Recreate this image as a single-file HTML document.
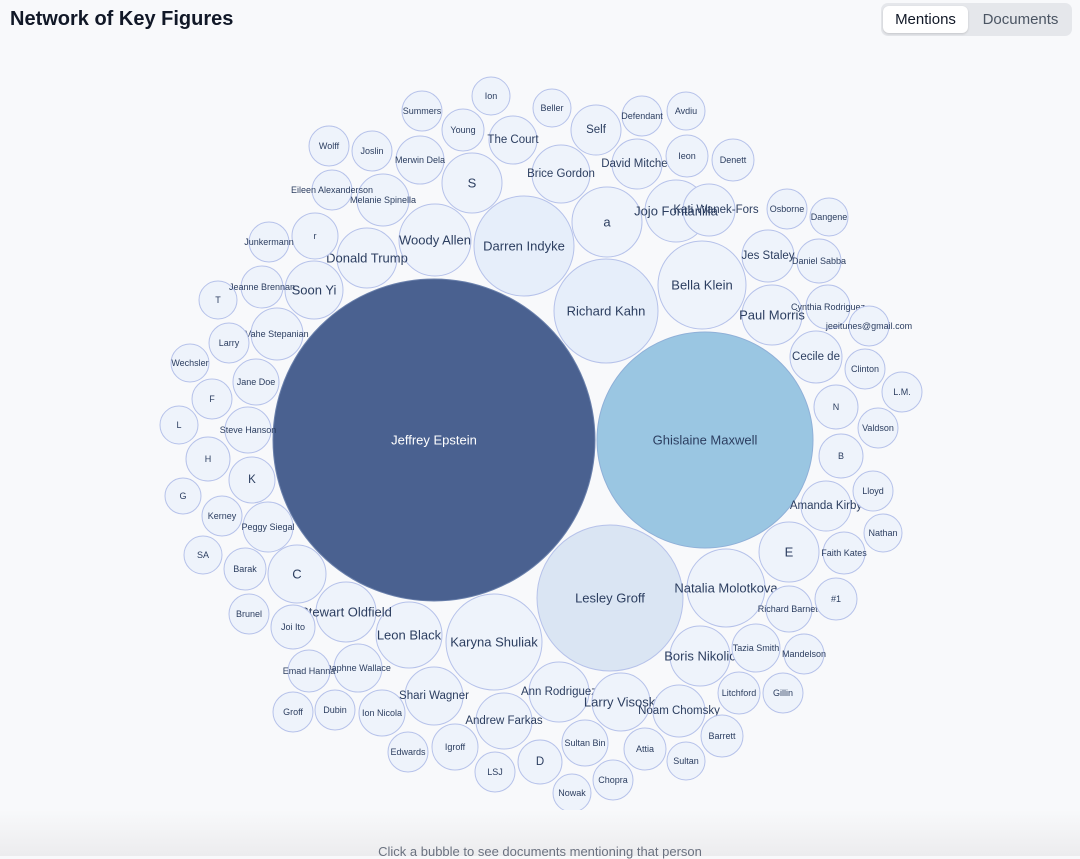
<!DOCTYPE html>
<html><head><meta charset="utf-8"><style>
html,body{margin:0;padding:0;width:1080px;height:856px;overflow:hidden;background:#f8f9fb;font-family:"Liberation Sans",sans-serif}
h1{position:absolute;left:10px;top:8px;margin:0;font-size:20px;font-weight:bold;color:#111827}
.tog{position:absolute;left:881px;top:3px;width:191px;height:33px;background:#e5e7eb;border-radius:7px}
.tog div{position:absolute;top:3px;height:27px;line-height:27px;font-size:15px;text-align:center}
.m{left:2px;width:85px;background:#fff;border-radius:6px;color:#111827;box-shadow:0 1px 2px rgba(0,0,0,.15)}
.d{left:92px;width:95px;color:#4b5563}
.foot{position:absolute;left:0;top:810px;width:1080px;height:46px;background:linear-gradient(#f8f9fb,#ececee)}
.foot span{position:absolute;top:34px;width:1080px;text-align:center;font-size:13px;color:#6b7280}
svg{position:absolute;left:0;top:0}
circle{fill:#eef3fb;stroke:#b6c2ea;stroke-width:1}
text{fill:#2c3e60;text-anchor:middle;dominant-baseline:central;font-family:"Liberation Sans",sans-serif}
.s{font-size:9px}.n{font-size:11.5px}.b{font-size:13px}
</style></head><body>
<h1>Network of Key Figures</h1>
<div class="tog"><div class="m">Mentions</div><div class="d">Documents</div></div>
<svg width="1080" height="856">
<circle cx="434" cy="440" r="161" style="fill:#4a6190;stroke:#6a80ac"/><text x="434" y="440" class="b" style="fill:#fff">Jeffrey Epstein</text>
<circle cx="705" cy="440" r="108" style="fill:#9ac6e2;stroke:#8fb0d8"/><text x="705" y="440" class="b">Ghislaine Maxwell</text>
<circle cx="610" cy="598" r="73" style="fill:#dae5f3"/><text x="610" y="598" class="b">Lesley Groff</text>
<circle cx="606" cy="311" r="52" style="fill:#e6eefa"/><text x="606" y="311" class="b">Richard Kahn</text>
<circle cx="524" cy="246" r="50" style="fill:#e6eefa"/><text x="524" y="246" class="b">Darren Indyke</text>
<circle cx="702" cy="285" r="44"/><text x="702" y="285" class="b">Bella Klein</text>
<circle cx="494" cy="642" r="48"/><text x="494" y="642" class="b">Karyna Shuliak</text>
<circle cx="726" cy="588" r="39"/><text x="726" y="588" class="b">Natalia Molotkova</text>
<circle cx="607" cy="222" r="35"/><text x="607" y="222" class="b">a</text>
<circle cx="435" cy="240" r="36"/><text x="435" y="240" class="b">Woody Allen</text>
<circle cx="561" cy="174" r="29"/><text x="561" y="174" class="n">Brice Gordon</text>
<circle cx="676" cy="211" r="31"/>
<circle cx="709" cy="210" r="26"/><text x="676" y="211" class="b">Jojo Fontanilla</text><text x="716" y="210" class="n">Kati Wanek-Fors</text>
<circle cx="409" cy="635" r="33"/><text x="409" y="635" class="b">Leon Black</text>
<circle cx="346" cy="612" r="30"/><text x="346" y="612" class="b">Stewart Oldfield</text>
<circle cx="700" cy="656" r="30"/><text x="700" y="656" class="b">Boris Nikolic</text>
<circle cx="559" cy="692" r="30"/><text x="559" y="692" class="n">Ann Rodriguez</text>
<circle cx="621" cy="702" r="29"/><text x="621" y="702" class="b">Larry Visoski</text>
<circle cx="679" cy="711" r="26"/><text x="679" y="711" class="n">Noam Chomsky</text>
<circle cx="772" cy="315" r="30"/><text x="772" y="315" class="b">Paul Morris</text>
<circle cx="434" cy="696" r="29"/><text x="434" y="696" class="n">Shari Wagner</text>
<circle cx="504" cy="721" r="28"/><text x="504" y="721" class="n">Andrew Farkas</text>
<circle cx="367" cy="258" r="30"/><text x="367" y="258" class="b">Donald Trump</text>
<circle cx="314" cy="290" r="29"/><text x="314" y="290" class="b">Soon Yi</text>
<circle cx="472" cy="183" r="30"/><text x="472" y="183" class="b">S</text>
<circle cx="513" cy="140" r="24"/><text x="513" y="140" class="n">The Court</text>
<circle cx="596" cy="130" r="25"/><text x="596" y="130" class="n">Self</text>
<circle cx="637" cy="164" r="25"/><text x="637" y="164" class="n">David Mitchell</text>
<circle cx="768" cy="256" r="26"/><text x="768" y="256" class="n">Jes Staley</text>
<circle cx="816" cy="357" r="26"/><text x="816" y="357" class="n">Cecile de</text>
<circle cx="789" cy="552" r="30"/><text x="789" y="552" class="b">E</text>
<circle cx="826" cy="506" r="25"/><text x="826" y="506" class="n">Amanda Kirby</text>
<circle cx="297" cy="574" r="29"/><text x="297" y="574" class="b">C</text>
<circle cx="420" cy="160" r="24"/><text x="420" y="160" class="s">Merwin Dela</text>
<circle cx="383" cy="200" r="26"/><text x="383" y="200" class="s">Melanie Spinella</text>
<circle cx="277" cy="334" r="26"/><text x="277" y="334" class="s">Vahe Stepanian</text>
<circle cx="248" cy="430" r="23"/><text x="248" y="430" class="s">Steve Hanson</text>
<circle cx="268" cy="527" r="25"/><text x="268" y="527" class="s">Peggy Siegal</text>
<circle cx="358" cy="668" r="24"/><text x="358" y="668" class="s">Daphne Wallace</text>
<circle cx="382" cy="713" r="23"/><text x="382" y="713" class="s">Ion Nicola</text>
<circle cx="455" cy="747" r="23"/><text x="455" y="747" class="s">Igroff</text>
<circle cx="540" cy="762" r="22"/><text x="540" y="762" class="n">D</text>
<circle cx="585" cy="743" r="23"/><text x="585" y="743" class="s">Sultan Bin</text>
<circle cx="756" cy="648" r="24"/><text x="756" y="648" class="s">Tazia Smith</text>
<circle cx="789" cy="609" r="23"/><text x="789" y="609" class="s">Richard Barnett</text>
<circle cx="844" cy="553" r="21"/><text x="844" y="553" class="s">Faith Kates</text>
<circle cx="256" cy="382" r="23"/><text x="256" y="382" class="s">Jane Doe</text>
<circle cx="252" cy="480" r="23"/><text x="252" y="480" class="n">K</text>
<circle cx="315" cy="236" r="23"/><text x="315" y="236" class="s">r</text>
<circle cx="463" cy="130" r="21"/><text x="463" y="130" class="s">Young</text>
<circle cx="422" cy="111" r="20"/><text x="422" y="111" class="s">Summers</text>
<circle cx="491" cy="96" r="19"/><text x="491" y="96" class="s">Ion</text>
<circle cx="552" cy="108" r="19"/><text x="552" y="108" class="s">Beller</text>
<circle cx="642" cy="116" r="20"/><text x="642" y="116" class="s">Defendant</text>
<circle cx="686" cy="111" r="19"/><text x="686" y="111" class="s">Avdiu</text>
<circle cx="687" cy="156" r="21"/><text x="687" y="156" class="s">Ieon</text>
<circle cx="733" cy="160" r="21"/><text x="733" y="160" class="s">Denett</text>
<circle cx="787" cy="209" r="20"/><text x="787" y="209" class="s">Osborne</text>
<circle cx="829" cy="217" r="19"/><text x="829" y="217" class="s">Dangene</text>
<circle cx="819" cy="261" r="22"/><text x="819" y="261" class="s">Daniel Sabba</text>
<circle cx="828" cy="307" r="22"/><text x="828" y="307" class="s">Cynthia Rodriguez</text>
<circle cx="869" cy="326" r="20"/><text x="869" y="326" class="s">jeeitunes@gmail.com</text>
<circle cx="865" cy="369" r="20"/><text x="865" y="369" class="s">Clinton</text>
<circle cx="902" cy="392" r="20"/><text x="902" y="392" class="s">L.M.</text>
<circle cx="836" cy="407" r="22"/><text x="836" y="407" class="s">N</text>
<circle cx="878" cy="428" r="20"/><text x="878" y="428" class="s">Valdson</text>
<circle cx="841" cy="456" r="22"/><text x="841" y="456" class="s">B</text>
<circle cx="873" cy="491" r="20"/><text x="873" y="491" class="s">Lloyd</text>
<circle cx="883" cy="533" r="19"/><text x="883" y="533" class="s">Nathan</text>
<circle cx="836" cy="599" r="21"/><text x="836" y="599" class="s">#1</text>
<circle cx="804" cy="654" r="20"/><text x="804" y="654" class="s">Mandelson</text>
<circle cx="783" cy="693" r="20"/><text x="783" y="693" class="s">Gillin</text>
<circle cx="739" cy="693" r="21"/><text x="739" y="693" class="s">Litchford</text>
<circle cx="722" cy="736" r="21"/><text x="722" y="736" class="s">Barrett</text>
<circle cx="686" cy="761" r="19"/><text x="686" y="761" class="s">Sultan</text>
<circle cx="645" cy="749" r="21"/><text x="645" y="749" class="s">Attia</text>
<circle cx="613" cy="780" r="20"/><text x="613" y="780" class="s">Chopra</text>
<circle cx="572" cy="793" r="19"/><text x="572" y="793" class="s">Nowak</text>
<circle cx="495" cy="772" r="20"/><text x="495" y="772" class="s">LSJ</text>
<circle cx="408" cy="752" r="20"/><text x="408" y="752" class="s">Edwards</text>
<circle cx="335" cy="710" r="20"/><text x="335" y="710" class="s">Dubin</text>
<circle cx="293" cy="712" r="20"/><text x="293" y="712" class="s">Groff</text>
<circle cx="309" cy="671" r="21"/><text x="309" y="671" class="s">Emad Hanna</text>
<circle cx="293" cy="627" r="22"/><text x="293" y="627" class="s">Joi Ito</text>
<circle cx="249" cy="614" r="20"/><text x="249" y="614" class="s">Brunel</text>
<circle cx="245" cy="569" r="21"/><text x="245" y="569" class="s">Barak</text>
<circle cx="203" cy="555" r="19"/><text x="203" y="555" class="s">SA</text>
<circle cx="222" cy="516" r="20"/><text x="222" y="516" class="s">Kerney</text>
<circle cx="183" cy="496" r="18"/><text x="183" y="496" class="s">G</text>
<circle cx="208" cy="459" r="22"/><text x="208" y="459" class="s">H</text>
<circle cx="179" cy="425" r="19"/><text x="179" y="425" class="s">L</text>
<circle cx="212" cy="399" r="20"/><text x="212" y="399" class="s">F</text>
<circle cx="190" cy="363" r="19"/><text x="190" y="363" class="s">Wechsler</text>
<circle cx="229" cy="343" r="20"/><text x="229" y="343" class="s">Larry</text>
<circle cx="218" cy="300" r="19"/><text x="218" y="300" class="s">T</text>
<circle cx="262" cy="287" r="21"/><text x="262" y="287" class="s">Jeanne Brennan</text>
<circle cx="269" cy="242" r="20"/><text x="269" y="242" class="s">Junkermann</text>
<circle cx="332" cy="190" r="20"/><text x="332" y="190" class="s">Eileen Alexanderson</text>
<circle cx="329" cy="146" r="20"/><text x="329" y="146" class="s">Wolff</text>
<circle cx="372" cy="151" r="20"/><text x="372" y="151" class="s">Joslin</text>
</svg>
<div class="foot"><span>Click a bubble to see documents mentioning that person</span></div>
</body></html>
